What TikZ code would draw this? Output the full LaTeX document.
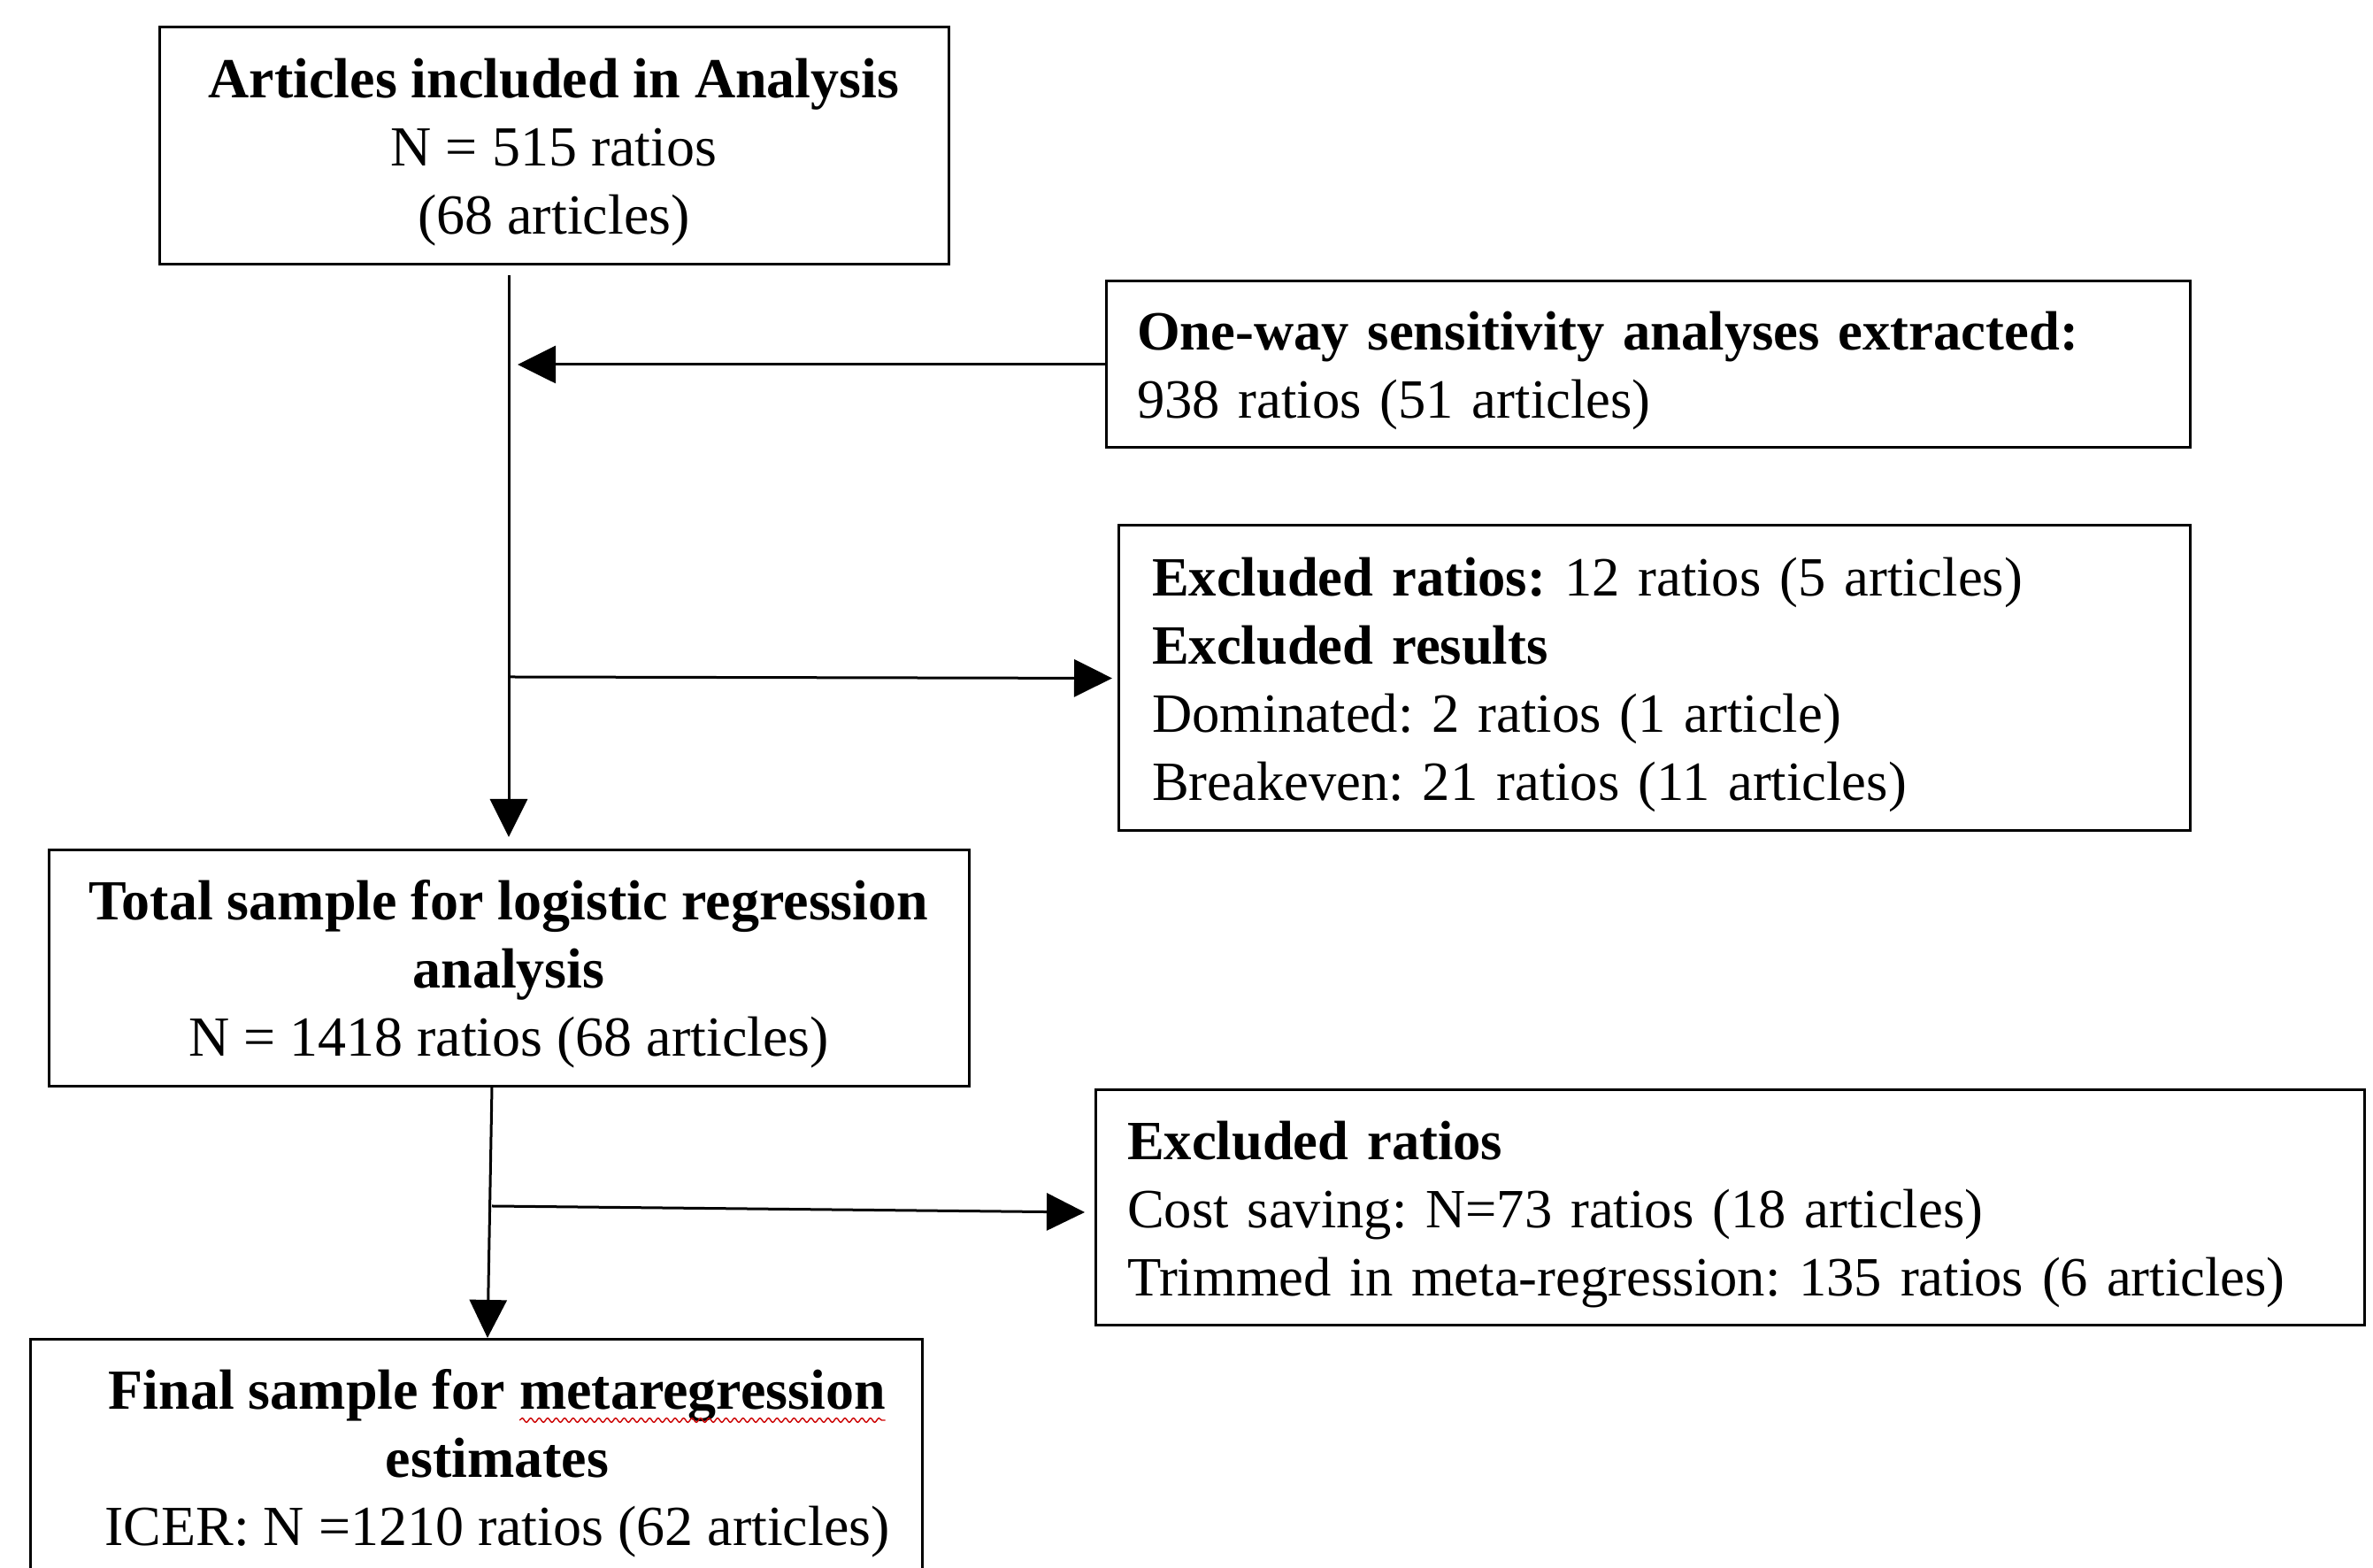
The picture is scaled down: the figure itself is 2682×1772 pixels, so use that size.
\documentclass[tikz,border=0pt]{standalone}
\usepackage{fontspec}
\setmainfont{Liberation Serif}
\usetikzlibrary{arrows.meta,decorations.pathmorphing}
\newcommand\spellwave[1]{\tikz[baseline=(sw.base)]{\node[draw=none,fill=none,inner sep=0pt,outer sep=0pt,minimum width=0pt,minimum height=0pt,anchor=base](sw) at (0,0){#1};\draw[red!80!black,line width=0.35pt,decorate,decoration={snake,amplitude=0.6pt,segment length=2.4pt}]([yshift=-3.2pt]sw.base west)--([yshift=-3.2pt]sw.base east);}}
\newcommand\topstrut{\rule{0pt}{14.5pt}}
\newcommand\ind{\hspace*{12pt}}
\begin{document}
\frenchspacing
\begin{tikzpicture}[x=0.25pt,y=-0.25pt,
  font=\fontsize{16pt}{19.25pt}\selectfont\frenchspacing,
  box/.style={draw, line width=0.75pt, inner sep=0pt, outer sep=0pt},
  sidebox/.style={box, align=left, font=\fontsize{15.65pt}{19.25pt}\selectfont\frenchspacing},
  conn/.style={line width=0.75pt},
  arr/.style={conn, -{Triangle[length=10.75pt,width=10.5pt]}}]
\useasboundingbox (0,0) rectangle (2682,1772);

\node[box, minimum width=223pt, minimum height=67pt, align=center] (b1) at (626,165)
  {\topstrut\textbf{Articles included in Analysis}\\N = 515 ratios\\(68 articles)};
\node[sidebox, minimum width=306.25pt, minimum height=47pt, text width=288.75pt] (b2) at (1862.5,412)
  {\topstrut\textbf{One-way sensitivity analyses extracted:}\\938 ratios (51 articles)};
\node[sidebox, minimum width=302.75pt, minimum height=86.25pt, text width=283.75pt] (b3) at (1869.5,766.5)
  {\topstrut\textbf{Excluded ratios:} 12 ratios (5 articles)\\\textbf{Excluded results}\\Dominated: 2 ratios (1 article)\\Breakeven: 21 ratios (11 articles)};
\node[box, minimum width=260pt, minimum height=66.75pt, align=center] (b4) at (575,1094.5)
  {\topstrut\textbf{Total sample for logistic regression}\\\textbf{analysis}\\N = 1418 ratios (68 articles)};
\node[sidebox, minimum width=358.5pt, minimum height=66.5pt, text width=340.5pt] (b5) at (1955,1365)
  {\topstrut\textbf{Excluded ratios}\\Cost saving: N=73 ratios (18 articles)\\Trimmed in meta-regression: 135 ratios (6 articles)};
\node[box, minimum width=252pt, minimum height=66.5pt, align=center, anchor=north] (b6) at (538,1514)
  {\topstrut\ind\textbf{Final sample for \spellwave{metaregression}}\\\ind\textbf{estimates}\\\ind ICER: N =1210 ratios (62 articles)};

\coordinate (v1s) at (575,311);
\coordinate (v1e) at (575,946);
\coordinate (t2) at (585,412);
\coordinate (j3) at (575,765);
\coordinate (v2s) at (556,1228);
\coordinate (v2e) at (551,1512);
\coordinate (j5) at (556,1363);

\draw[arr] (v1s) -- (v1e);
\draw[arr] (b2.west) -- (t2);
\draw[arr] (j3) -- ([xshift=-1.75pt]b3.west);
\draw[arr] (v2s) -- (v2e);
\draw[arr] (j5) -- ([xshift=-3pt,yshift=-1.25pt]b5.west);
\end{tikzpicture}
\end{document}
